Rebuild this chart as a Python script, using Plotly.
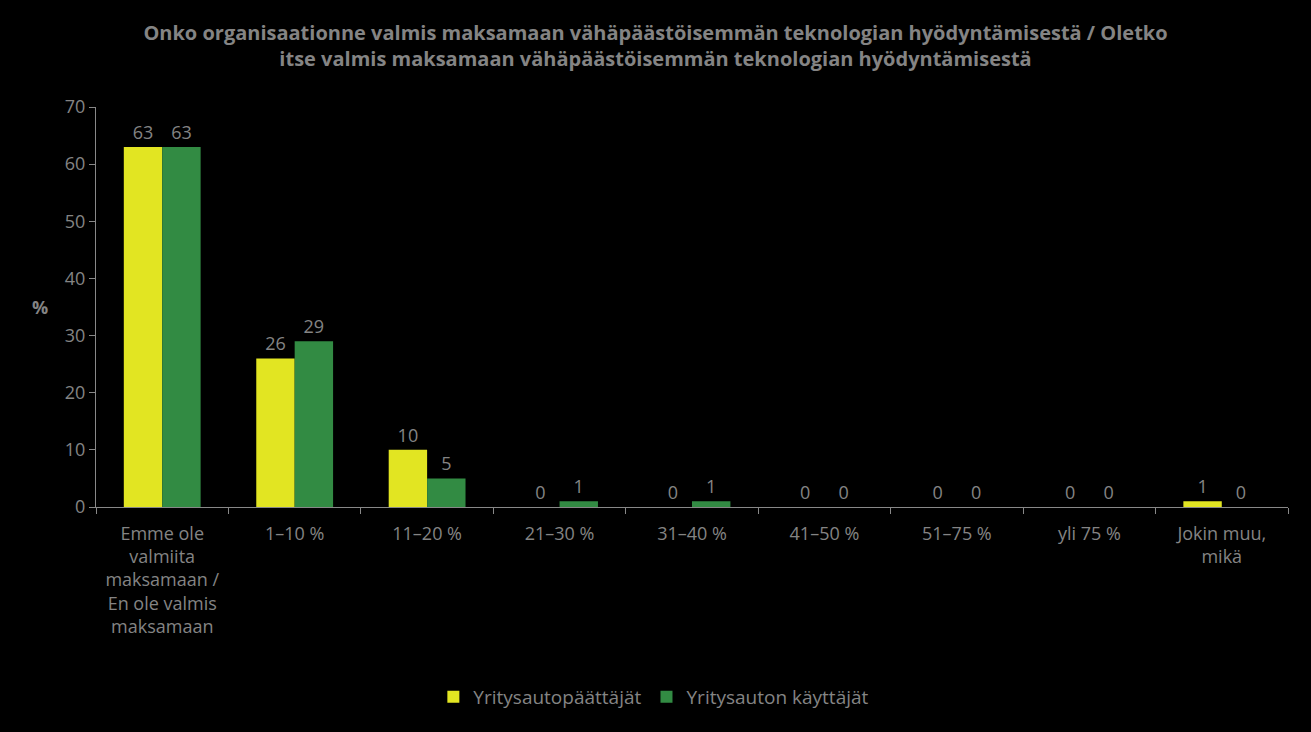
import plotly.graph_objects as go

categories = [
    "Emme ole<br>valmiita<br>maksamaan /<br>En ole valmis<br>maksamaan",
    "1–10 %", "11–20 %", "21–30 %", "31–40 %", "41–50 %", "51–75 %", "yli 75 %",
    "Jokin muu,<br>mikä",
]
series_names = ["Yritysautopäättäjät", "Yritysauton käyttäjät"]
paattajat = [63, 26, 10, 0, 0, 0, 0, 0, 1]
kayttajat = [63, 29, 5, 1, 1, 0, 0, 0, 0]
colors = ["#E2E522", "#328B43"]

title = ("Onko organisaationne valmis maksamaan vähäpäästöisemmän teknologian hyödyntämisestä / Oletko<br>"
         "itse valmis maksamaan vähäpäästöisemmän teknologian hyödyntämisestä")

grey = "#848484"
font_family = "Open Sans"

fig = go.Figure()
for name, vals, col in zip(series_names, [paattajat, kayttajat], colors):
    fig.add_trace(go.Bar(
        x=categories, y=vals, name=name, marker_color=col, marker_line_width=0,
        text=[str(v) for v in vals], textposition="outside", cliponaxis=False,
        textfont=dict(color=grey, size=18, family=font_family),
    ))

fig.update_layout(
    width=1311, height=732,
    paper_bgcolor="black", plot_bgcolor="black",
    margin=dict(l=96, r=23, t=107, b=225),
    barmode="group", bargap=0.42, bargroupgap=0,
    title=dict(text="<b>" + title + "</b>", x=0.5, xanchor="center",
               yref="container", y=1 - 40 / 732, yanchor="middle",
               font=dict(color=grey, size=20, family=font_family)),
    font=dict(color=grey, family=font_family, size=18),
    showlegend=True,
    legend=dict(orientation="h", x=0.468, xanchor="center", y=-0.475, yanchor="middle",
                font=dict(color=grey, size=19, family=font_family), traceorder="normal",
                itemwidth=30),
    xaxis=dict(showline=True, linecolor="#888888", linewidth=1, ticks="outside",
               tickson="boundaries", ticklen=6, tickcolor="#888888", ticklabelstandoff=10,
               tickfont=dict(color=grey, size=18, family=font_family), showgrid=False),
    yaxis=dict(range=[0, 70], dtick=10, showline=True, linecolor="#888888", linewidth=1,
               ticks="outside", ticklen=6, tickcolor="#888888", showgrid=False, zeroline=False,
               tickfont=dict(color=grey, size=18, family=font_family)),
    annotations=[dict(text="<b>%</b>", xref="paper", yref="paper", x=-0.055, y=0.5,
                      showarrow=False, font=dict(color=grey, size=18, family=font_family))],
)

fig.write_html("out.html", config={"displayModeBar": False},
               post_script="document.body.style.margin='0';document.body.style.background='black';")
